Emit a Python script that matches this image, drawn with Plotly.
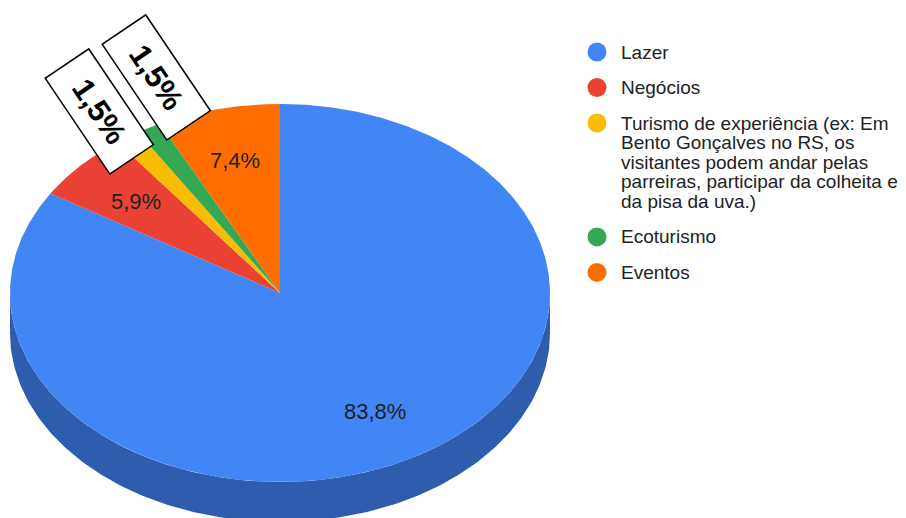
import numpy as np
import plotly.graph_objects as go

# Survey answers: reasons for travelling (68 respondents)
labels = [
    "Lazer",
    "Negócios",
    "Turismo de experiência (ex: Em Bento Gonçalves no RS, os visitantes "
    "podem andar pelas parreiras, participar da colheita e da pisa da uva.)",
    "Ecoturismo",
    "Eventos",
]
legend_lines = [
    ["Lazer"],
    ["Negócios"],
    ["Turismo de experiência (ex: Em",
     "Bento Gonçalves no RS, os",
     "visitantes podem andar pelas",
     "parreiras, participar da colheita e",
     "da pisa da uva.)"],
    ["Ecoturismo"],
    ["Eventos"],
]
counts = [57, 4, 1, 1, 5]
colors = ["#4285f4", "#ea4335", "#fbbc04", "#34a853", "#ff6d01"]
side_colors = ["#2f5dae", "#a8302a", "#b08503", "#257640", "#b34d01"]

# Callout boxes for the thin slices (slice index -> box centre)
callouts = {2: (99, 111), 3: (156, 77)}

# Tilted pie geometry (pixel space of the 906x518 canvas)
CX, CY, RX, RY, DEPTH = 280.0, 293.0, 270.0, 189.0, 40.0
LABEL_R = 0.72

total = sum(counts)
pcts = [100.0 * c / total for c in counts]


def fmt(p):
    return f"{p:.1f}".replace(".", ",") + "%"


def ellipse(theta_deg, dy=0.0):
    t = np.radians(theta_deg)
    return CX + RX * np.sin(t), CY - RY * np.cos(t) + dy


fig = go.Figure()

# slice boundaries, clockwise from 12 o'clock
bounds = np.concatenate([[0.0], np.cumsum(counts) / total * 360.0])

# front side walls
for i in range(len(counts)):
    a, b = max(bounds[i], 90.0), min(bounds[i + 1], 270.0)
    if b <= a:
        continue
    th = np.linspace(a, b, 200)
    xt, yt = ellipse(th)
    xb, yb = ellipse(th[::-1], DEPTH)
    fig.add_trace(go.Scatter(
        x=np.concatenate([xt, xb, xt[:1]]),
        y=np.concatenate([yt, yb, yt[:1]]),
        fill="toself", mode="lines", line=dict(width=0, color=side_colors[i]),
        fillcolor=side_colors[i], hoverinfo="skip", showlegend=False,
    ))

# top faces
for i in range(len(counts)):
    th = np.linspace(bounds[i], bounds[i + 1], max(int((bounds[i + 1] - bounds[i]) * 2), 8))
    xs, ys = ellipse(th)
    fig.add_trace(go.Scatter(
        x=np.concatenate([[CX], xs, [CX]]),
        y=np.concatenate([[CY], ys, [CY]]),
        fill="toself", mode="lines", line=dict(width=0, color=colors[i]),
        fillcolor=colors[i], name=labels[i], hoverinfo="name", showlegend=False,
    ))

annotations = []

# in-slice percentage labels
for i, p in enumerate(pcts):
    if i in callouts:
        continue
    mid = (bounds[i] + bounds[i + 1]) / 2.0
    t = np.radians(mid)
    annotations.append(dict(
        x=CX + LABEL_R * RX * np.sin(t), y=CY - LABEL_R * RY * np.cos(t),
        xref="x", yref="y", text=fmt(p), showarrow=False,
        font=dict(family="Liberation Sans, Arial, sans-serif", size=22, color="#1f1f1f"),
        xanchor="center", yanchor="middle",
    ))

# rotated white callout boxes
for i, (bx, by) in callouts.items():
    annotations.append(dict(
        x=bx, y=by, xref="x", yref="y", text=fmt(pcts[i]), showarrow=False,
        textangle=56, width=112, height=49, borderpad=1,
        bgcolor="white", bordercolor="black", borderwidth=1.5,
        align="center", valign="middle", xanchor="center", yanchor="middle",
        font=dict(family="Liberation Sans, Arial, sans-serif", size=31,
                  color="black", weight="bold"),
    ))

# legend: markers and wrapped labels
LEG_X, LEG_TX, LEG_Y0, LEG_GAP, LEG_LINE = 597, 619, 52, 35.5, 19.6
leg_y = []
y = LEG_Y0
for lines in legend_lines:
    leg_y.append(y)
    for k, line in enumerate(lines):
        annotations.append(dict(
            x=LEG_TX, y=y + k * LEG_LINE, xref="x", yref="y", text=line,
            showarrow=False, xanchor="left", yanchor="middle",
            font=dict(family="Liberation Sans, Arial, sans-serif", size=19, color="#222222"),
        ))
    y += (len(lines) - 1) * LEG_LINE + LEG_GAP

fig.add_trace(go.Scatter(
    x=[LEG_X] * len(counts), y=leg_y, mode="markers",
    marker=dict(size=19, color=colors, line=dict(width=0)),
    hoverinfo="skip", showlegend=False,
))

fig.update_layout(
    width=906, height=518,
    margin=dict(l=0, r=0, t=0, b=0),
    paper_bgcolor="white", plot_bgcolor="white",
    xaxis=dict(range=[0, 906], visible=False, fixedrange=True),
    yaxis=dict(range=[518, 0], visible=False, fixedrange=True),
    annotations=annotations,
    showlegend=False,
)

fig.write_html("out.html")
